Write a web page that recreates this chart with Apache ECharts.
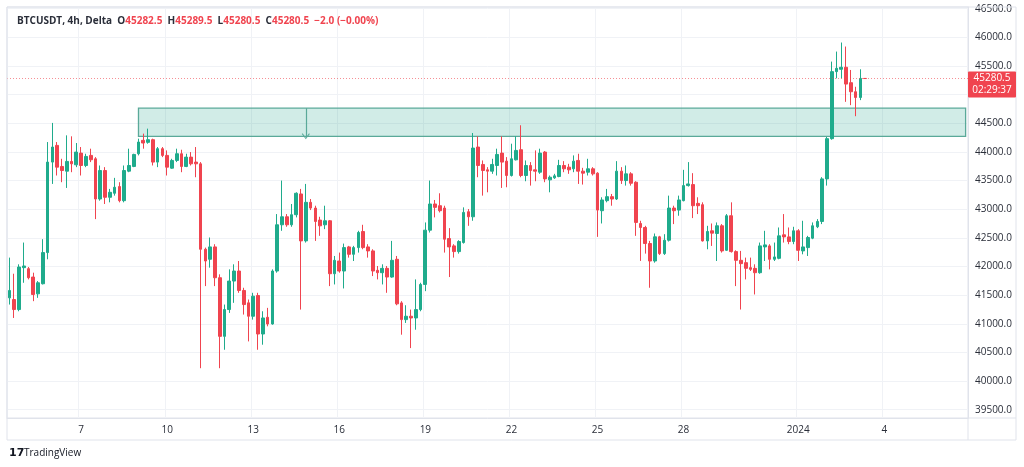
<!DOCTYPE html>
<html>
<head>
<meta charset="utf-8">
<script src="https://cdn.jsdelivr.net/npm/echarts@6/dist/echarts.min.js"></script>
<style>
  html, body { margin: 0; padding: 0; background: #fff; }
  #main { width: 1024px; height: 467px; }
</style>
</head>
<body>
<div id="main"></div>
<script>
// BTCUSDT 4h candles, Dec 4 2023 12:00 -> Jan 3 2024
const startTime = Date.UTC(2023, 11, 4, 12, 0)
const slotCount = 201   // axis runs past the last candle

const open = [41453,41424,41249,41980,41962,41816,41523,41699,42243,43822,44114,43746,43664,43834,43775,43979,43763,43939,43880,43178,
  43675,43208,43278,43395,43149,43664,43746,43968,44202,44167,44213,43822,44056,43939,43716,43851,43968,43746,43909,43822,
  43792,42301,42126,42342,41804,40781,41249,41746,41921,41582,41366,41132,41494,40822,41114,40997,41921,42728,42868,42728,
  42904,43266,42447,43120,43020,42810,42728,42798,41874,42096,41921,42342,42213,42330,42611,42342,42272,41933,41892,41968,
  41816,42126,41365,41073,41132,41102,41248,41687,42634,43091,43061,43020,42488,42360,42260,42418,42956,42868,44085,43781,
  43687,43664,43763,43979,43839,43588,43862,44038,43588,43763,43687,43646,43997,43512,43547,43570,43763,43734,43705,43851,
  43664,43646,43705,43629,42974,43149,43219,43178,43664,43500,43617,43471,42751,42681,42401,42096,42518,42225,42459,43020,
  42985,43149,43412,43430,43102,43079,42447,42623,42576,42711,42283,42886,42260,42108,42067,41980,41968,41892,42342,42360,
  42126,42143,42553,42517,42436,42623,42272,42330,42494,42693,42786,43529,44231,45401,45442,45477,45208,45050,44950,45282.5]
const high = [42155,41874,42038,42418,41991,41892,41746,42477,44172,44506,44172,43880,44289,44272,44155,44085,43968,44056,43909,43763,
  43734,43354,43547,43471,43763,44056,43968,44231,44319,44406,44231,44085,44085,44026,43880,44056,44038,43968,43997,44085,
  43822,42330,42506,42389,41863,41336,41950,42038,42096,41629,41424,41541,41541,41219,41278,41950,42915,43500,42915,43091,
  43295,43354,43441,43178,43061,42868,43061,42810,42184,42243,42400,42360,42360,42623,42728,42389,42301,42009,42038,42009,
  42447,42184,41395,41324,41248,41775,41716,42769,43500,43161,43278,43061,42670,42389,42459,43032,43003,44330,44272,43851,
  43734,43880,44056,44272,43909,44143,44272,44465,43851,43822,44026,44056,44015,43588,43617,43862,43839,43792,43939,43968,
  43722,43880,43734,43646,43208,43354,43266,43839,43734,43763,43646,43488,42798,42710,42447,42576,42535,42564,43237,43061,
  43237,43687,43822,43629,43208,43120,42710,42751,42769,42740,42915,43120,42283,42272,42155,42155,42038,42418,42623,42389,
  42418,42681,42915,42681,42693,42652,42798,42535,42769,42827,43559,44260,45576,45751,45909,45839,45430,45137,45442,45289.5]
const low = [41336,41102,41219,41716,41775,41395,41453,41687,42126,43441,43588,43471,43371,43646,43734,43588,43734,43822,42827,43149,
  43091,43120,43237,43120,43120,43646,43734,43939,44056,44143,43763,43734,43909,43588,43705,43822,43646,43734,43763,43558,
  40225,41658,41980,41658,40225,40547,41190,41366,41541,41161,40693,41073,40547,40635,40956,40985,41892,42623,42693,42693,
  42857,41248,42418,42985,42447,42535,42652,41658,41687,41892,41617,42155,42096,42243,42301,42155,41833,41775,41687,41541,
  41804,41324,40810,41015,40576,40897,41219,41570,42593,42857,42944,42243,41816,42155,42225,42400,42710,42798,43558,43237,
  43295,43617,43588,43371,43383,43570,43851,43558,43488,43412,43488,43617,43471,43295,43529,43558,43646,43617,43646,43441,
  43430,43588,43588,42517,42751,43120,43061,43161,43441,43412,43412,42535,42097,42225,41629,42067,42202,42202,42436,42740,
  42886,43137,43395,42845,42915,42436,42301,42359,42096,42243,42272,42243,41658,41249,41775,41921,41512,41874,42096,41950,
  42096,42126,42418,42389,42389,42096,42213,42184,42477,42670,42740,43412,44213,45284,45284,44874,44816,44623,44904,45280.5]
const close = [41582,41249,41991,42009,41804,41512,41716,42243,43822,44085,43734,43675,43834,43792,43997,43763,43921,43863,43178,43675,
  43208,43295,43383,43149,43675,43763,43956,44172,44155,44213,43822,44056,43939,43734,43851,43968,43746,43909,43792,43792,
  42301,42096,42342,41804,40781,41249,41746,41921,41582,41336,41132,41482,40822,41102,40997,41921,42728,42868,42728,42904,
  43278,42447,43120,43020,42786,42710,42798,41874,42108,41921,42330,42213,42330,42594,42330,42272,41921,41892,41968,41816,
  42108,41348,41073,41132,41102,41248,41687,42634,43091,43032,42974,42476,42342,42260,42436,42944,42868,44067,43763,43675,
  43664,43781,43956,43822,43588,43880,44026,43588,43763,43675,43664,43979,43529,43558,43582,43763,43705,43687,43839,43664,
  43629,43705,43617,42985,43161,43219,43178,43664,43500,43617,43453,42769,42681,42401,42096,42518,42225,42459,43020,42974,
  43161,43412,43441,43061,43061,42447,42611,42582,42711,42272,42886,42260,42108,42050,41968,41950,41892,42360,42377,42126,
  42167,42535,42517,42436,42623,42283,42342,42506,42711,42786,43529,44231,45401,45459,45477,45184,45050,44950,45282.5,45280.5]

// axis ticks
const priceTicks = [39500,40000,40500,41000,41500,42000,42500,43000,43500,44000,44500,45000,45500,46000,46500]
const xTickDates = ['2023-12-07 00:00','2023-12-10 00:00','2023-12-13 00:00','2023-12-16 00:00','2023-12-19 00:00',
  '2023-12-22 00:00','2023-12-25 00:00','2023-12-28 00:00','2024-01-01 00:00','2024-01-04 00:00']
const xTickLabels = ['7','10','13','16','19','22','25','28','2024','4']

// drawn zone and last price
const zoneTop = 44763
const zoneBottom = 44272
const zoneStartTime = '2023-12-09 00:00'
const arrowTime = '2023-12-14 20:00'
const lastPrice = 45280.5
const countdown = '02:29:37'

const green = '#1fab8c'
const red = '#f0444f'
const zoneLine = '#5aa999'

const pad = (n) => (n < 10 ? '0' : '') + n
const categories = []
for (let i = 0; i < slotCount; i++) {
    const d = new Date(startTime + i * 4 * 3600 * 1000)
    categories.push(d.getUTCFullYear() + '-' + pad(d.getUTCMonth() + 1) + '-' + pad(d.getUTCDate()) +
        ' ' + pad(d.getUTCHours()) + ':' + pad(d.getUTCMinutes()))
}
const candles = open.map((o, i) => [o, close[i], low[i], high[i]])
const tickSet = new Set(xTickDates)
const showTick = (idx, val) => tickSet.has(val)

const chart = echarts.init(document.getElementById('main'), null, { renderer: 'canvas' })

const option = {
    animation: false,
    backgroundColor: '#ffffff',
    textStyle: { fontFamily: 'Open Sans' },
    title: {
        left: 12, top: 11,
        text: '{a|BTCUSDT, 4h, Delta}  {a|O}{b|45282.5}  {a|H}{b|45289.5}  {a|L}{b|45280.5}  {a|C}{b|45280.5}  {b|\u22122.0 (\u22120.00%)}',
        textStyle: {
            fontSize: 10,
            rich: {
                a: { fontSize: 10, color: '#2a2e39', fontFamily: 'Open Sans' },
                b: { fontSize: 10, color: red, fontFamily: 'Open Sans' }
            }
        }
    },
    grid: { left: 7, right: 56, top: 7, bottom: 49, show: true, borderColor: '#e0e3eb', borderWidth: 1 },
    xAxis: {
        type: 'category',
        data: categories,
        boundaryGap: true,
        axisLine: { show: true, lineStyle: { color: '#e0e3eb' } },
        axisTick: { show: false },
        axisLabel: {
            interval: showTick,
            color: '#2a2e39', fontSize: 10, margin: 7,
            formatter: (val) => xTickLabels[xTickDates.indexOf(val)]
        },
        splitLine: { show: true, interval: showTick, lineStyle: { color: '#f0f2f6', width: 1 } }
    },
    yAxis: {
        type: 'value',
        position: 'right',
        min: 39356,
        max: 46529,
        scale: true,
        axisLine: { show: true, lineStyle: { color: '#e0e3eb' } },
        axisTick: { show: false, customValues: priceTicks },
        axisLabel: {
            customValues: priceTicks,
            color: '#2a2e39', fontSize: 10, margin: 7,
            formatter: (v) => v.toFixed(1)
        },
        splitLine: { show: true, lineStyle: { color: '#f0f2f6', width: 1 } }
    },
    series: [
        {
            name: 'zone',
            type: 'line',
            data: [],
            z: 1,
            silent: true,
            markArea: {
                silent: true,
                itemStyle: { color: 'rgba(8,153,129,0.19)', borderColor: zoneLine, borderWidth: 1.3 },
                data: [[
                    { xAxis: zoneStartTime, yAxis: zoneTop },
                    { xAxis: categories[slotCount - 1], yAxis: zoneBottom }
                ]]
            },
            markLine: {
                silent: true,
                symbol: ['none', 'path://M0,9 L5,0 L10,9 L9,10 L5,2.5 L1,10 Z'],
                symbolSize: [8, 6],
                label: { show: false },
                lineStyle: { color: zoneLine, width: 1.2, type: 'solid' },
                data: [[
                    { coord: [arrowTime, zoneTop] },
                    { coord: [arrowTime, zoneBottom] }
                ]]
            }
        },
        {
            name: 'BTCUSDT',
            type: 'candlestick',
            data: candles,
            z: 3,
            barWidth: 3.2,
            itemStyle: {
                color: green, color0: red,
                borderColor: green, borderColor0: red,
                borderWidth: 1
            },
            markLine: {
                silent: true,
                symbol: 'none',
                label: { show: false },
                lineStyle: { color: red, width: 1, type: [1, 2], opacity: 0.6 },
                data: [{ yAxis: lastPrice }]
            }
        }
    ]
}

chart.setOption(option)

// frame + price-scale label, placed from the chart's own scales
const py = chart.convertToPixel({ yAxisIndex: 0 }, lastPrice)
chart.setOption({
    graphic: [
        { type: 'rect', shape: { x: 7, y: 7, width: 1009, height: 433 }, style: { fill: 'none', stroke: '#e0e3eb', lineWidth: 1 }, z: 10 },
        { type: 'line', shape: { x1: 968, y1: 418, x2: 1016, y2: 418 }, style: { stroke: '#e0e3eb', lineWidth: 1 }, z: 10 },
        { type: 'line', shape: { x1: 968, y1: 418, x2: 968, y2: 440 }, style: { stroke: '#e0e3eb', lineWidth: 1 }, z: 10 },
        { type: 'rect', shape: { x: 968, y: py - 7, width: 48, height: 26, r: 1 }, style: { fill: red }, z: 20 },
        { type: 'text', x: 992, y: py, style: { text: lastPrice.toFixed(1), fill: '#fff', font: '10px "Open Sans"', align: 'center', verticalAlign: 'middle' }, z: 21 },
        { type: 'text', x: 992, y: py + 12, style: { text: countdown, fill: '#fff', font: '10px "Open Sans"', align: 'center', verticalAlign: 'middle' }, z: 21 },
        { type: 'text', x: 9, y: 453, style: { text: '17', fill: '#131722', font: 'bold 11px "DejaVu Sans"', verticalAlign: 'middle' }, z: 21 },
        { type: 'text', x: 24, y: 453, style: { text: 'TradingView', fill: '#131722', font: '10px "Open Sans"', verticalAlign: 'middle' }, z: 21 }
    ]
})
</script>
</body>
</html>
